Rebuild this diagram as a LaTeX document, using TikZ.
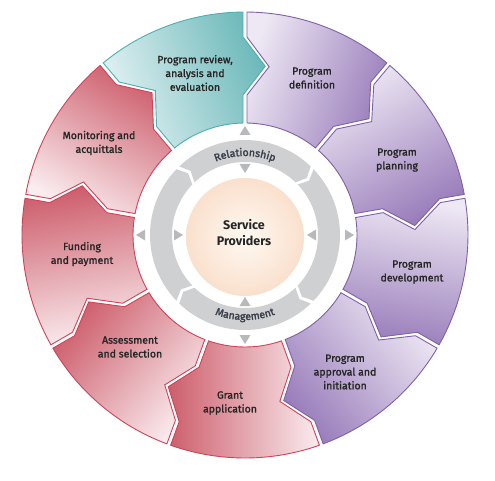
\documentclass[tikz,border=0pt]{standalone}
\usepackage{fontspec}
\setmainfont{Fira Sans}
\newfontfamily\medfont{Fira Sans}[FakeBold=1.6]
\newfontfamily\arcfont{Fira Sans}[FakeBold=2.2]
\usetikzlibrary{decorations.text}
\definecolor{tealL}{HTML}{E4F2F4}
\definecolor{tealD}{HTML}{6DB9BA}
\definecolor{tealB}{HTML}{4DAFAF}
\definecolor{purL}{HTML}{EEE8F4}
\definecolor{purD}{HTML}{9A7EBB}
\definecolor{purB}{HTML}{8060A6}
\definecolor{redL}{HTML}{FAECEF}
\definecolor{redD}{HTML}{CD5E6C}
\definecolor{redB}{HTML}{D24257}
\definecolor{ringG}{HTML}{CFD0D2}
\definecolor{triG}{HTML}{B8B9BB}
\definecolor{txt}{HTML}{262626}
\definecolor{arcTxt}{HTML}{3A404C}
\definecolor{peachIn}{HTML}{FFF9F2}
\definecolor{peachOut}{HTML}{FAE0CD}

% outer segment, trailing boundary angle #1, spans 40 degrees clockwise
\newcommand{\segpath}[1]{%
  (#1-1.02:112pt) -- (#1-0.82:140pt) -- (#1-8.17:170pt) -- (#1-0.58:198pt) -- (#1-0.51:223pt)
  arc[start angle=#1-0.51, end angle=#1-39.49, radius=223pt]
  -- (#1-39.42:198pt) -- (#1-46.83:170pt) -- (#1-39.18:140pt) -- (#1-38.98:112pt)
  arc[start angle=#1-38.98, end angle=#1-1.02, radius=112pt] -- cycle}
% inner gray arrow piece, trailing angle #1, spans 90 degrees clockwise
\newcommand{\gpath}[1]{%
  (#1-1.2:95pt) arc[start angle=#1-1.2, end angle=#1-88.8, radius=95pt]
  -- (#1-92.3:84pt) -- (#1-88.8:73pt)
  arc[start angle=#1-88.8, end angle=#1-1.2, radius=73pt]
  -- (#1-4.7:84pt) -- cycle}

\tikzset{
  seglabel/.style={font=\medfont\fontsize{10.5}{13.8}\selectfont, align=center, text=txt, inner sep=0pt},
  centerlabel/.style={font=\fontsize{12.5}{16}\selectfont\bfseries, align=center, text=txt, inner sep=0pt},
  segborder/.style={line width=0.9pt, line join=miter},
}

\begin{document}
\begin{tikzpicture}
\useasboundingbox (0,0) rectangle (495pt,480pt);
\begin{scope}[shift={(245pt,245pt)}]
  % outer segments
  \foreach \a/\L/\D/\B in {130/tealL/tealD/tealB, 90/purL/purD/purB, 50/purL/purD/purB,
      10/purL/purD/purB, -30/purL/purD/purB, -70/redL/redD/redB, -110/redL/redD/redB,
      -150/redL/redD/redB, -190/redL/redD/redB}{
    \pgfmathsetmacro\sang{\a-20}
    \shade[top color=\L, bottom color=\D, shading angle=\sang] \segpath{\a};
    \draw[segborder, draw=\B] \segpath{\a};
  }
  % gray ring pieces
  \foreach \a in {135,45,-45,-135}{
    \fill[ringG] \gpath{\a};
  }
  % small triangles
  \foreach \t in {0,90,180,270}{
    \begin{scope}[rotate=\t]
      \fill[triG] (109pt,0pt) -- (100pt,5.5pt) -- (100pt,-5.5pt) -- cycle;
      \fill[triG] (62pt,0pt) -- (71pt,5.5pt) -- (71pt,-5.5pt) -- cycle;
    \end{scope}
  }
  % centre circle
  \shade[inner color=peachIn, outer color=peachOut] (0pt,-2pt) circle[radius=59pt];
  % curved texts
  \path[decorate, decoration={text along path, text align=center,
      text={|\arcfont\fontsize{10.5}{10}\selectfont\color{arcTxt}|Relationship}}]
    (128:79pt) arc[start angle=128, end angle=52, radius=79pt];
  \path[decorate, decoration={text along path, text align=center,
      text={|\arcfont\fontsize{10.5}{10}\selectfont\color{arcTxt}|Management}}]
    (-128:85pt) arc[start angle=-128, end angle=-52, radius=85pt];
\end{scope}

\node[seglabel] (review) at (195pt,407pt) {Program review,\\analysis and\\evaluation};
\node[seglabel] (definition) at (312pt,402pt) {Program\\definition};
\node[seglabel] (planning) at (397pt,320pt) {Program\\planning};
\node[seglabel] (development) at (412pt,208pt) {Program\\development};
\node[seglabel] (approval) at (345pt,108pt) {Program\\approval and\\initiation};
\node[seglabel] (grant) at (230pt,77pt) {Grant\\application};
\node[seglabel] (assessment) at (130pt,133pt) {Assessment\\and selection};
\node[seglabel] (funding) at (82pt,226pt) {Funding\\and payment};
\node[seglabel] (monitoring) at (99pt,337pt) {Monitoring and\\acquittals};
\node[centerlabel] (sp) at (244pt,247pt) {Service\\Providers};
\end{tikzpicture}
\end{document}
